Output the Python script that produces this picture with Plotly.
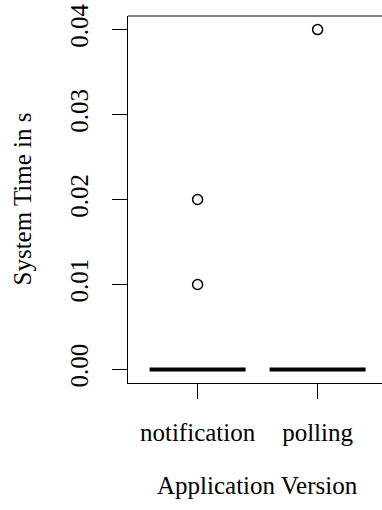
import plotly.graph_objects as go

categories = ["notification", "polling"]
notification_values = [0.0] * 20 + [0.01, 0.02]
polling_values = [0.0] * 20 + [0.04]
y_ticks = [0.00, 0.01, 0.02, 0.03, 0.04]
y_tick_labels = ["0.00", "0.01", "0.02", "0.03", "0.04"]

FONT = "Times New Roman"
FS = 25

fig = go.Figure()
for name, vals in zip(categories, [notification_values, polling_values]):
    fig.add_trace(go.Box(
        x=[name] * len(vals), y=vals, name=name,
        boxpoints="outliers", width=0.8, whiskerwidth=0.5,
        fillcolor="rgba(0,0,0,0)",
        line=dict(color="black", width=4),
        marker=dict(symbol="circle-open", size=10, color="black",
                    line=dict(width=1.5, color="black")),
        showlegend=False,
    ))

fig.update_layout(
    template="none",
    width=382, height=510,
    margin=dict(l=128, r=0, t=16, b=127),
    plot_bgcolor="white", paper_bgcolor="white",
    font=dict(family=FONT, size=FS, color="black"),
    xaxis=dict(
        type="category", categoryorder="array", categoryarray=categories,
        range=[-0.58, -0.58 + 254 / 120],
        showline=True, linecolor="black", linewidth=1,
        ticks="outside", ticklen=15, tickwidth=1, tickcolor="black",
        showgrid=False, zeroline=False,
        tickfont=dict(family=FONT, size=FS, color="black"),
        ticklabelstandoff=12,
    ),
    yaxis=dict(
        range=[-0.0016, 0.0416],
        tickvals=y_ticks, ticktext=y_tick_labels, tickangle=-90,
        showline=True, linecolor="black", linewidth=1,
        ticks="outside", ticklen=15, tickwidth=1, tickcolor="black",
        showgrid=False, zeroline=False,
        tickfont=dict(family=FONT, size=FS, color="black"),
        ticklabelstandoff=14,
    ),
    shapes=[dict(type="line", xref="paper", yref="paper",
                 x0=0, x1=1.1, y0=1, y1=1,
                 line=dict(color="black", width=1))],
    annotations=[
        dict(text="Application Version", xref="x", yref="paper",
             x=0.5, y=0, yshift=-102, showarrow=False,
             xanchor="center", yanchor="middle",
             font=dict(family=FONT, size=FS, color="black")),
        dict(text="System Time in s", xref="paper", yref="paper",
             x=0, xshift=-106, y=0.5, showarrow=False, textangle=-90,
             xanchor="center", yanchor="middle",
             font=dict(family=FONT, size=FS, color="black")),
    ],
)

fig.write_html("out.html")
